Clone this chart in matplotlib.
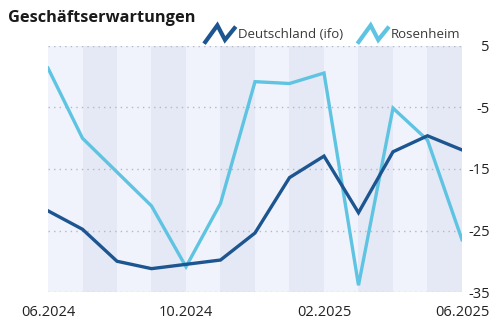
import numpy as np
import matplotlib.pyplot as plt
from matplotlib.lines import Line2D
from matplotlib.legend_handler import HandlerBase

plt.rcParams['font.family'] = ['Open Sans', 'DejaVu Sans']

# Monthly values, 06.2024 - 06.2025
months = ['06.2024', '07.2024', '08.2024', '09.2024', '10.2024', '11.2024',
          '12.2024', '01.2025', '02.2025', '03.2025', '04.2025', '05.2025',
          '06.2025']
deutschland = [-21.8, -24.8, -30.0, -31.2, -30.5, -29.8, -25.4, -16.4,
               -12.9, -22.1, -12.2, -9.6, -11.9]
rosenheim = [1.4, -10.0, -15.5, -21.0, -30.9, -20.6, -0.8, -1.1, 0.6,
             -33.9, -5.1, -10.3, -26.5]
y_ticks = [5, -5, -15, -25, -35]
x_labels = ['06.2024', '10.2024', '02.2025', '06.2025']

dark = '#1c5590'
light = '#5ec4e2'


class ZigzagHandler(HandlerBase):
    """Draw a small zigzag as the legend key."""
    def create_artists(self, legend, orig_handle, xdescent, ydescent,
                       width, height, fontsize, trans):
        xs = np.array([0.0, 0.42, 0.66, 1.0]) * width - xdescent
        ys = np.array([-0.3, 1.15, 0.0, 1.05]) * height - ydescent
        line = Line2D(xs, ys, color=orig_handle.get_color(), lw=3.0,
                      solid_joinstyle='miter', solid_capstyle='butt',
                      transform=trans)
        return [line]


fig = plt.figure(figsize=(5, 3.25), dpi=100)
ax = fig.add_axes([0.096, 0.1015, 0.828, 0.757])

x = np.arange(len(months))

# alternating month bands
for i in range(len(months) - 1):
    ax.axvspan(x[i], x[i + 1], color='#f0f3fb' if i % 2 == 0 else '#e5e9f5',
               lw=0, zorder=0)

for v in y_ticks:
    ax.axhline(v, color='#b4b8c4', lw=1.0, ls=(0, (1, 3)), zorder=1)

h1, = ax.plot(x, deutschland, color=dark, lw=2.4, zorder=3,
              solid_joinstyle='miter')
h2, = ax.plot(x, rosenheim, color=light, lw=2.4, zorder=2,
              solid_joinstyle='miter')

ax.set_xlim(x[0], x[-1])
ax.set_ylim(-35, 5)
ax.set_yticks(y_ticks)
ax.set_yticklabels([str(v) for v in y_ticks])
ax.yaxis.tick_right()
ax.set_xticks([months.index(m) for m in x_labels])
ax.set_xticklabels(x_labels)
ax.tick_params(length=0, labelsize=10.5, colors='#222222')
ax.tick_params(axis='y', pad=20)
ax.tick_params(axis='x', pad=9)
for lab in ax.get_yticklabels():
    lab.set_horizontalalignment('right')
for s in ax.spines.values():
    s.set_visible(False)

fig.text(0.016, 0.945, 'Geschäftserwartungen', fontsize=11.8,
         fontweight='bold', color='#1a1a1a', va='center')

fig.legend([h1, h2], ['Deutschland (ifo)', 'Rosenheim'],
           handler_map={Line2D: ZigzagHandler()},
           loc='center right', bbox_to_anchor=(0.945, 0.895), ncol=2,
           frameon=False, fontsize=9.5, handlelength=2.4, handleheight=1.1,
           handletextpad=0.15, columnspacing=1.1, labelcolor='#3a3a3a')

fig.savefig('out.png', dpi=100)
